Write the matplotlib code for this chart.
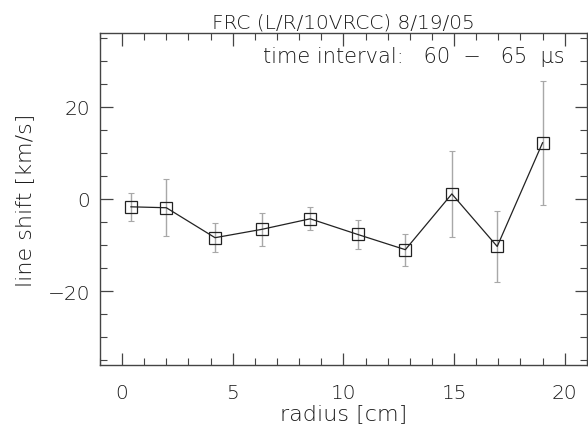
import matplotlib
matplotlib.use('Agg')
import matplotlib.pyplot as plt
from matplotlib.ticker import MultipleLocator

plt.rcParams['font.family'] = ['DejaVu Sans']

# data
radius = [0.4, 2.0, 4.2, 6.3, 8.5, 10.65, 12.8, 14.9, 16.95, 19.0]
shift = [-1.7, -1.9, -8.4, -6.6, -4.3, -7.7, -11.0, 1.1, -10.3, 12.2]
shift_err = [3.1, 6.2, 3.2, 3.6, 2.5, 3.1, 3.5, 9.3, 7.8, 13.5]

txt = '#1a1a1a'

fig = plt.figure(figsize=(5.88, 4.31), dpi=100)
ax = fig.add_axes([0.170, 0.151, 0.828, 0.770])

ax.errorbar(radius, shift, yerr=shift_err, fmt='none', ecolor='#a8a8a8',
            elinewidth=1.0, capsize=2, capthick=0.8)
ax.plot(radius, shift, color='#222222', lw=0.9, marker='s', ms=8,
        mfc='none', mec='#222222', mew=0.9)

ax.set_xlim(-1, 21)
ax.set_ylim(-36, 36)
ax.xaxis.set_major_locator(MultipleLocator(5))
ax.xaxis.set_minor_locator(MultipleLocator(1))
ax.yaxis.set_major_locator(MultipleLocator(20))
ax.yaxis.set_minor_locator(MultipleLocator(5))
ax.tick_params(which='both', direction='in', top=True, right=True,
               labelsize=14.5, colors='#444444', labelcolor=txt)
ax.tick_params(axis='x', pad=13)
ax.tick_params(axis='y', pad=7)
ax.tick_params(which='major', length=9, width=0.9)
ax.tick_params(which='minor', length=5, width=0.8)
for lab in ax.get_xticklabels() + ax.get_yticklabels():
    lab.set_fontweight('light')
for s in ax.spines.values():
    s.set_color('#444444')
    s.set_linewidth(1.0)

ax.set_xlabel('radius [cm]', fontsize=16, color=txt, labelpad=1, fontweight='light')
ax.set_ylabel('line shift [km/s]', fontsize=16, color=txt, labelpad=9, fontweight='light')
ax.set_title('FRC (L/R/10VRCC) 8/19/05', fontsize=14.5, color=txt, pad=4,
             fontweight='light')
ax.text(0.955, 0.96, 'time interval:   60  \u2212   65  \u03bcs', transform=ax.transAxes,
        ha='right', va='top', fontsize=15, color=txt, fontweight='light')

fig.savefig('out.png', dpi=100)
